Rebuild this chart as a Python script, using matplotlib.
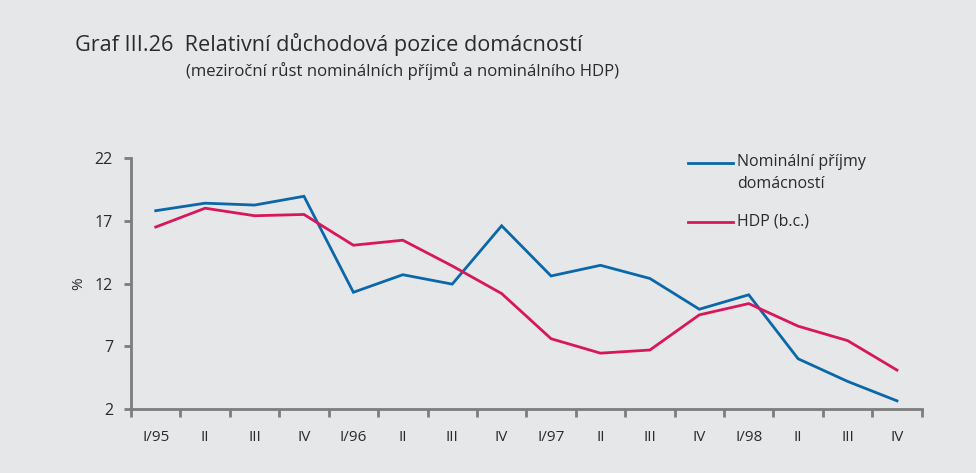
import matplotlib.pyplot as plt
import numpy as np
from matplotlib.lines import Line2D

# data
quarters = ["I/95", "II", "III", "IV", "I/96", "II", "III", "IV",
            "I/97", "II", "III", "IV", "I/98", "II", "III", "IV"]
prijmy = [17.8, 18.4, 18.25, 18.95, 11.3, 12.7, 11.95, 16.6,
          12.6, 13.45, 12.4, 9.95, 11.1, 6.0, 4.2, 2.65]
hdp = [16.5, 18.0, 17.4, 17.5, 15.05, 15.45, 13.4, 11.2,
       7.6, 6.45, 6.7, 9.5, 10.4, 8.6, 7.45, 5.1]
y_ticks = [2, 7, 12, 17, 22]

params = {
    "bg": "#e6e7e9",
    "blue": "#0a67a8",
    "red": "#d8175a",
    "axis": "#7d7d7d",
    "text": "#2b2b2b",
    "font": "Open Sans",
}

plt.rcParams["font.family"] = [params["font"], "DejaVu Sans"]

fig = plt.figure(figsize=(9.76, 4.73), dpi=100, facecolor=params["bg"])
ax = fig.add_axes([131 / 976, 1 - 409 / 473, (921.7 - 131) / 976, (409 - 158) / 473])
ax.set_facecolor(params["bg"])

x = np.arange(len(quarters))
ax.plot(x, prijmy, color=params["blue"], lw=2.0, solid_joinstyle="miter")
ax.plot(x, hdp, color=params["red"], lw=2.0, solid_joinstyle="miter")

ax.set_xlim(-0.5, len(quarters) - 0.5)
ax.set_ylim(2, 22)

for s in ["top", "right"]:
    ax.spines[s].set_visible(False)
for s in ["left", "bottom"]:
    ax.spines[s].set_color(params["axis"])
    ax.spines[s].set_linewidth(2.0)

ax.set_yticks(y_ticks)
ax.set_yticklabels([str(v) for v in y_ticks])
ax.tick_params(axis="y", length=5, width=2, color=params["axis"], direction="out",
               labelsize=11.5, labelcolor=params["text"], pad=8)

# boundaries get tick marks, labels sit between
ax.set_xticks(np.arange(len(quarters) + 1) - 0.5)
ax.set_xticklabels([])
ax.set_xticks(x, minor=True)
ax.set_xticklabels(quarters, minor=True)
ax.tick_params(axis="x", which="major", length=6, width=2, color=params["axis"], direction="out")
ax.tick_params(axis="x", which="minor", length=0, labelsize=11, labelcolor=params["text"], pad=15)

ax.set_ylabel("%", fontsize=11, color=params["text"], labelpad=6)

# title
fig.text(75 / 976, 1 - 45 / 473, "Graf III.26  Relativní důchodová pozice domácností",
         fontsize=15.6, color=params["text"], va="center", ha="left")
fig.text(186 / 976, 1 - 71 / 473, "(meziroční růst nominálních příjmů a nominálního HDP)",
         fontsize=12.1, color=params["text"], va="center", ha="left")

# legend
legend_items = [
    (params["blue"], "Nominální příjmy\ndomácností", 163),
    (params["red"], "HDP (b.c.)", 222),
]
for color, label, ypix in legend_items:
    fig.add_artist(Line2D([688 / 976, 733 / 976], [1 - ypix / 473] * 2,
                          color=color, lw=2.0, transform=fig.transFigure))
    fig.text(737 / 976, 1 - (ypix - 9) / 473, label, fontsize=11.5,
             color=params["text"], va="top", ha="left", linespacing=1.5)

fig.savefig("out.png", dpi=100, facecolor=params["bg"])
